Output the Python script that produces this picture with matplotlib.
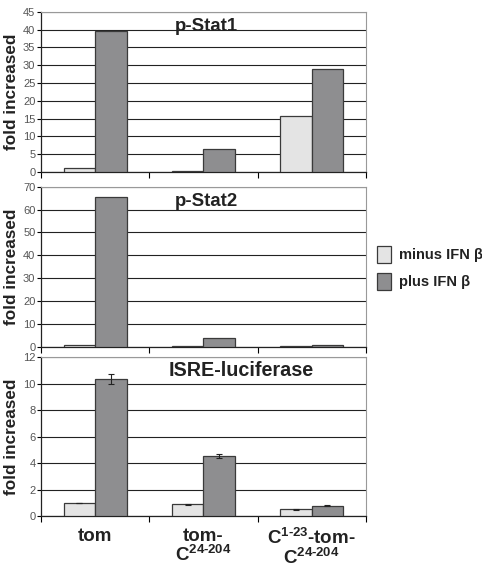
import matplotlib
matplotlib.use("Agg")
import matplotlib.pyplot as plt
import numpy as np
from matplotlib.patches import Patch

plt.rcParams['font.family'] = ['Liberation Sans', 'DejaVu Sans']
plt.rcParams['mathtext.fontset'] = 'custom'
plt.rcParams['mathtext.rm'] = 'Liberation Sans:bold'
plt.rcParams['mathtext.bf'] = 'Liberation Sans:bold'
plt.rcParams['mathtext.it'] = 'Liberation Sans:bold'

categories = ["tom", "tom-\nC$^{24\u2010204}$", "C$^{1\u201023}$-tom-\nC$^{24\u2010204}$"]
series_names = ["minus IFN \u03b2", "plus IFN \u03b2"]

stat1_minus = [1.0, 0.2, 15.8]
stat1_plus = [39.7, 6.6, 28.9]
stat2_minus = [1.0, 0.3, 0.4]
stat2_plus = [65.3, 3.9, 1.0]
isre_minus = [1.0, 0.88, 0.5]
isre_plus = [10.35, 4.5, 0.78]
isre_minus_err = [0.02, 0.04, 0.03]
isre_plus_err = [0.35, 0.15, 0.02]

panels = [
    ("p-Stat1", stat1_minus, stat1_plus, None, None, 45, 5, [0.085, 0.695, 0.674, 0.284], 0.508, 0.91, 13.4),
    ("p-Stat2", stat2_minus, stat2_plus, None, None, 70, 10, [0.085, 0.385, 0.674, 0.284], 0.508, 0.91, 13.4),
    ("ISRE-luciferase", isre_minus, isre_plus, isre_minus_err, isre_plus_err, 12, 2, [0.085, 0.085, 0.674, 0.282], 0.615, 0.915, 14.2),
]

light = "#e4e4e4"
dark = "#8e8e90"
edge = "#3a3a3a"

fig = plt.figure(figsize=(4.82, 5.64), dpi=100)
x = np.arange(len(categories))
w = 0.29
axes = []
for title, mn, pl, emn, epl, ymax, step, rect, tx, ty, tfs in panels:
    ax = fig.add_axes(rect)
    ax.bar(x - w/2, mn, w, color=light, edgecolor=edge, linewidth=0.9, zorder=3,
           yerr=emn, capsize=2.5, error_kw=dict(ecolor="#222", elinewidth=0.8, capthick=0.8))
    ax.bar(x + w/2, pl, w, color=dark, edgecolor=edge, linewidth=0.9, zorder=3,
           yerr=epl, capsize=2.5, error_kw=dict(ecolor="#222", elinewidth=0.8, capthick=0.8))
    ax.set_xlim(-0.5, len(categories) - 0.5)
    ax.set_ylim(0, ymax)
    ax.set_yticks(np.arange(0, ymax + 0.01, step))
    ax.yaxis.grid(True, color="#222", linewidth=0.8, zorder=0)
    ax.set_axisbelow(True)
    ax.tick_params(axis='y', labelsize=8, labelcolor="#555", length=3, width=0.8, pad=1)
    ax.set_xticks(np.arange(-0.5, len(categories), 1.0))
    ax.tick_params(axis='x', length=4, width=0.8, labelbottom=False)
    for s in ['left', 'bottom']:
        ax.spines[s].set_color("#222")
        ax.spines[s].set_linewidth(0.9)
    for s in ['right', 'top']:
        ax.spines[s].set_color("#999")
        ax.spines[s].set_linewidth(0.8)
    ax.text(tx, ty, title, transform=ax.transAxes, ha='center', va='center',
            fontsize=tfs, fontweight='bold', color="#222")
    ax.set_ylabel("fold increased", fontsize=12.3, fontweight='bold', color="#222", labelpad=3)
    axes.append(ax)

ax3 = axes[-1]
ax3.set_xticks(x, labels=categories, minor=True)
ax3.tick_params(axis='x', which='minor', length=0, labelbottom=True, labelsize=13.5, pad=8.5)
for lab in ax3.get_xticklabels(minor=True):
    lab.set_fontweight('bold')
    lab.set_color("#222")
    lab.set_linespacing(1.0)

handles = [Patch(facecolor=light, edgecolor=edge, linewidth=0.9),
           Patch(facecolor=dark, edgecolor=edge, linewidth=0.9)]
leg = fig.legend(handles, series_names, loc='center left', bbox_to_anchor=(0.755, 0.525),
                 frameon=False, prop=dict(size=10.5, weight='bold'), handlelength=0.95,
                 handleheight=1.45, handletextpad=0.55, labelspacing=0.65)
for t in leg.get_texts():
    t.set_color("#222")

fig.savefig("out.png", dpi=100)
